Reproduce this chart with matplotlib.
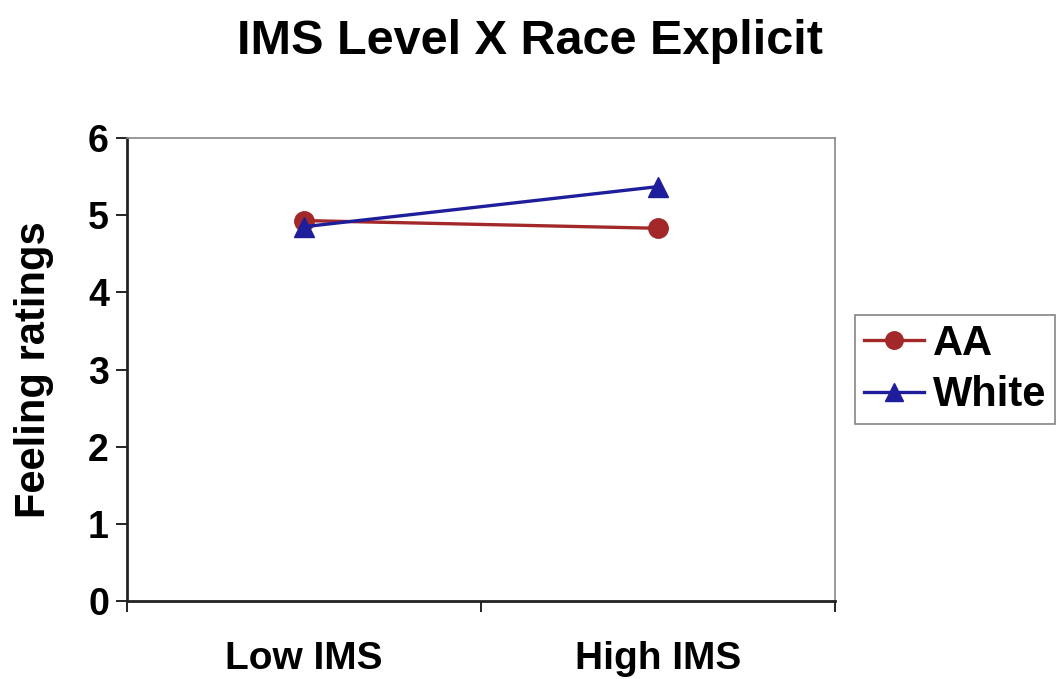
import matplotlib
matplotlib.use("Agg")
import matplotlib.pyplot as plt
import numpy as np

categories = ["Low IMS", "High IMS"]
series_names = ["AA", "White"]
aa_values = [4.93, 4.83]
white_values = [4.85, 5.37]
y_ticks = [0, 1, 2, 3, 4, 5, 6]

plt.rcParams['font.family'] = ['Liberation Sans', 'DejaVu Sans']
plt.rcParams['font.weight'] = 'bold'

fig = plt.figure(figsize=(10.6, 6.79), dpi=100)
ax = fig.add_axes([127/1060, 1-601/679, (835-127)/1060, (601-138)/679])

x = np.arange(len(categories)) + 0.5
ax.plot(x, aa_values, color='#A3282A', lw=2.4, marker='o', ms=14, label=series_names[0])
ax.plot(x, white_values, color='#1E1E9C', lw=2.4, marker='^', ms=14, label=series_names[1])

ax.set_xlim(0, len(categories))
ax.set_ylim(0, 6)
ax.set_yticks(y_ticks)
ax.set_yticklabels([str(t) for t in y_ticks], fontsize=27, fontweight='bold')
ax.set_xticks(np.arange(len(categories) + 1))
ax.set_xticklabels([])
ax.set_xticks(x, minor=True)
ax.set_xticklabels(categories, minor=True, fontsize=28, fontweight='bold')
ax.tick_params(axis='x', which='minor', length=0, pad=29)
ax.tick_params(axis='x', which='major', length=8, width=1.2, direction='out')
ax.tick_params(axis='y', length=8, width=1.2, direction='out', pad=5)

for s in ['top', 'right']:
    ax.spines[s].set_color('#888888')
    ax.spines[s].set_linewidth(1.2)
for s in ['left', 'bottom']:
    ax.spines[s].set_color('#222222')
    ax.spines[s].set_linewidth(2)

ax.set_ylabel("Feeling ratings", fontsize=30, fontweight='bold')
ax.yaxis.set_label_coords((54-127)/708, 0.5)

fig.text(0.5, 1-42/679, "IMS Level X Race Explicit", ha='center', va='center',
         fontsize=35, fontweight='bold')

leg = fig.legend(loc='upper left', bbox_to_anchor=(855/1060, 1-315/679),
                 fontsize=30, frameon=True, fancybox=False, handlelength=1.45,
                 handletextpad=0.22, borderpad=0.21, labelspacing=0.28,
                 borderaxespad=0, markerscale=0.9)
leg.get_frame().set_edgecolor('#666666')
leg.get_frame().set_linewidth(1.2)
for t in leg.get_texts():
    t.set_fontweight('bold')

fig.savefig("out.png", dpi=100)
